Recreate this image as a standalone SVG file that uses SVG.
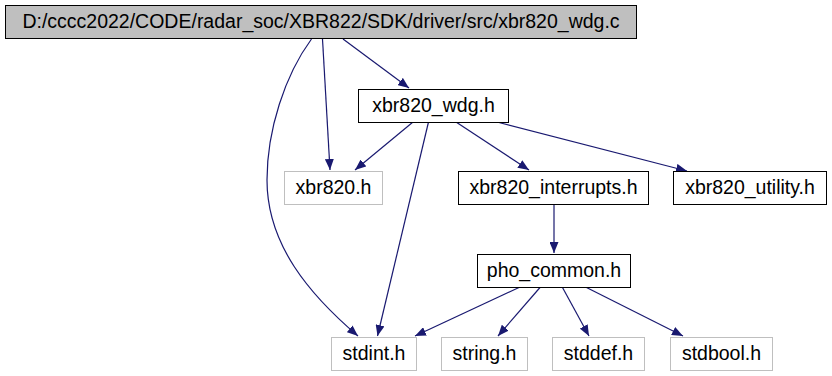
<svg xmlns="http://www.w3.org/2000/svg" width="832" height="376" viewBox="0 0 832 376">
  <style>
    .box { fill: #ffffff; stroke: #000000; stroke-width: 1; }
    .root { fill: #bfbfbf; stroke: #000000; stroke-width: 1; }
    .ext { fill: #ffffff; stroke: #bfbfbf; stroke-width: 1; }
    .lbl { font-family: "Liberation Sans", Arial, sans-serif; font-size: 19.5px; fill: #000000; text-anchor: middle; }
    .edge { fill: none; stroke: #191970; stroke-width: 1.2; }
  </style>
  <defs>
    <marker id="arrow" viewBox="0 0 11 9" refX="11" refY="4.5" markerWidth="11" markerHeight="9" markerUnits="userSpaceOnUse" orient="auto">
      <path d="M0,0 L11,4.5 L0,9 z" fill="#191970"/>
    </marker>
  </defs>

  <g id="edges">
    <path class="edge" marker-end="url(#arrow)" d="M343,39 L409,88"/>
    <path class="edge" marker-end="url(#arrow)" d="M322.5,39 L330,170"/>
    <path class="edge" marker-end="url(#arrow)" d="M311.5,39 C285,75 267,130 267,180 C267,245 310,295 358,336"/>
    <path class="edge" marker-end="url(#arrow)" d="M413,122 L355,170"/>
    <path class="edge" marker-end="url(#arrow)" d="M428.5,122 L377.5,336"/>
    <path class="edge" marker-end="url(#arrow)" d="M456,122 L529,170"/>
    <path class="edge" marker-end="url(#arrow)" d="M497,122 L687,171"/>
    <path class="edge" marker-end="url(#arrow)" d="M554,204 L554,253"/>
    <path class="edge" marker-end="url(#arrow)" d="M519,287.5 L415,336"/>
    <path class="edge" marker-end="url(#arrow)" d="M540,287.5 L498,336"/>
    <path class="edge" marker-end="url(#arrow)" d="M562.5,287.5 L589,336"/>
    <path class="edge" marker-end="url(#arrow)" d="M586.5,287.5 L683,336"/>
  </g>

  <g id="node-root">
    <rect class="root" x="5.5" y="5.5" width="631" height="33"/>
    <text class="lbl" x="321" y="27.5">D:/cccc2022/CODE/radar_soc/XBR822/SDK/driver/src/xbr820_wdg.c</text>
  </g>
  <g id="node-wdg">
    <rect class="box" x="358.5" y="89.5" width="150" height="33"/>
    <text class="lbl" x="433.5" y="111.5">xbr820_wdg.h</text>
  </g>
  <g id="node-xbr820">
    <rect class="ext" x="284.5" y="171.5" width="98" height="33"/>
    <text class="lbl" x="333.5" y="193.5">xbr820.h</text>
  </g>
  <g id="node-interrupts">
    <rect class="box" x="458.5" y="171.5" width="190" height="33"/>
    <text class="lbl" x="553.5" y="193.5">xbr820_interrupts.h</text>
  </g>
  <g id="node-utility">
    <rect class="box" x="673.5" y="171.5" width="153" height="33"/>
    <text class="lbl" x="750" y="193.5">xbr820_utility.h</text>
  </g>
  <g id="node-pho">
    <rect class="box" x="477.5" y="254.5" width="153" height="33"/>
    <text class="lbl" x="554" y="276.5">pho_common.h</text>
  </g>
  <g id="node-stdint">
    <rect class="ext" x="331.5" y="337.5" width="85" height="33"/>
    <text class="lbl" x="374" y="359.5">stdint.h</text>
  </g>
  <g id="node-string">
    <rect class="ext" x="441.5" y="337.5" width="86" height="33"/>
    <text class="lbl" x="484.5" y="359.5">string.h</text>
  </g>
  <g id="node-stddef">
    <rect class="ext" x="552.5" y="337.5" width="92" height="33"/>
    <text class="lbl" x="598.5" y="359.5">stddef.h</text>
  </g>
  <g id="node-stdbool">
    <rect class="ext" x="670.5" y="337.5" width="102" height="33"/>
    <text class="lbl" x="721.5" y="359.5">stdbool.h</text>
  </g>
</svg>
